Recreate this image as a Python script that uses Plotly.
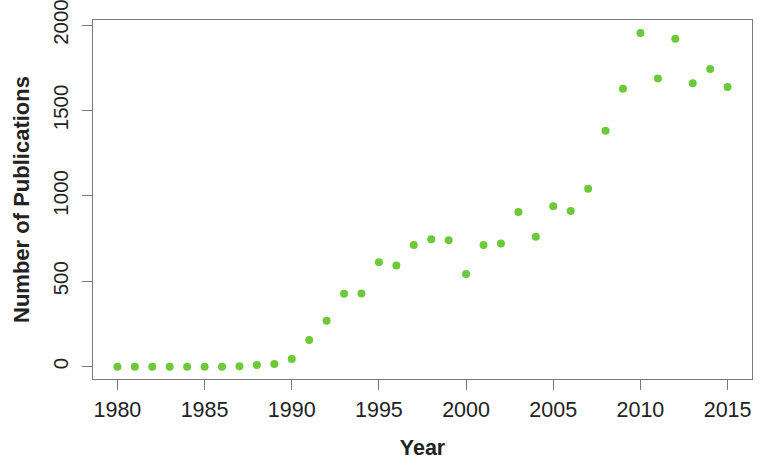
import plotly.graph_objects as go

years = list(range(1980, 2016))
publications = [0, 0, 0, 0, 0, 0, 0, 3, 10, 16, 45, 156, 269, 427, 429, 611,
                593, 712, 746, 740, 543, 712, 722, 906, 761, 939, 911, 1042,
                1382, 1628, 1954, 1688, 1920, 1659, 1743, 1637]
x_ticks = [1980, 1985, 1990, 1995, 2000, 2005, 2010, 2015]
y_ticks = [0, 500, 1000, 1500, 2000]

FONT = "Liberation Sans, Arial, Helvetica, sans-serif"
AX = "#7a7a7a"

fig = go.Figure(go.Scatter(
    x=years, y=publications, mode="markers",
    marker=dict(color="#6ec93a", size=8, line=dict(width=0)),
))

fig.update_layout(
    width=774, height=462,
    margin=dict(l=93, r=22, t=20, b=83, autoexpand=False),
    paper_bgcolor="white", plot_bgcolor="white",
    showlegend=False,
    font=dict(family=FONT, color="#222222", size=20),
)
fig.update_xaxes(
    range=[1978.6, 2016.4], tickvals=x_ticks, ticktext=[str(v) for v in x_ticks],
    showgrid=False, zeroline=False, showline=True, mirror=True, automargin=False,
    linecolor=AX, linewidth=1.2, ticks="outside", ticklen=10, tickcolor=AX,
    tickwidth=1.2, tickfont=dict(size=21.5, color="#222222"), ticklabeloverflow="allow",
    ticklabelstandoff=1,
    title=dict(text="<b>Year</b>", font=dict(size=21.5, color="#222222"), standoff=19),
)
fig.update_yaxes(
    range=[-72, 2030], tickvals=y_ticks, ticktext=[str(v) for v in y_ticks],
    showgrid=False, zeroline=False, showline=True, mirror=True, automargin=False,
    linecolor=AX, linewidth=1.2, ticks="outside", ticklen=10, tickcolor=AX,
    tickwidth=1.2, tickangle=-90, tickfont=dict(size=20.5, color="#222222"),
    ticklabeloverflow="allow", ticklabelstandoff=6,
    title=dict(text="<b>Number of Publications</b>", font=dict(size=22, color="#222222"), standoff=13),
)

fig.write_html(
    "out.html",
    config={"displayModeBar": False},
    post_script="document.body.style.margin='0px';document.body.style.overflow='hidden';",
)
